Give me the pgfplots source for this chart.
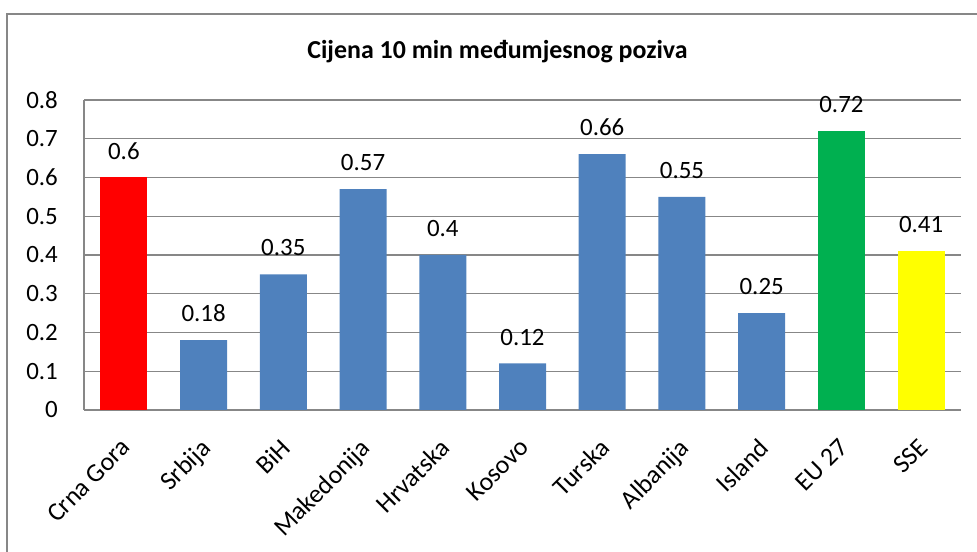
\documentclass[border=0pt]{standalone}
\usepackage{fontspec}
\setmainfont{Carlito}
\usepackage{pgfplots}
\pgfplotsset{compat=1.18}
\definecolor{barblue}{HTML}{4F81BD}
\definecolor{bargreen}{HTML}{00B050}
\definecolor{baryellow}{HTML}{FFFF00}
\definecolor{barred}{HTML}{FF0000}
\definecolor{gridgray}{HTML}{878787}
\begin{document}
\begin{tikzpicture}[x=1bp,y=1bp]
\useasboundingbox (0,0) rectangle (977,552);
\draw[color=gridgray, line width=1.2bp] (7,0) -- (7,538) -- (977,538);
\node[font=\bfseries\fontsize{26}{26}\selectfont] at (497.5,500) {Cijena 10 min međumjesnog poziva};
\begin{axis}[
  at={(84bp,142bp)}, anchor=south west,
  scale only axis, width=877bp, height=310bp,
  xmin=-0.5, xmax=10.5, ymin=0, ymax=0.8,
  enlargelimits=false,
  ytick={0,0.1,0.2,0.3,0.4,0.5,0.6,0.7,0.8},
  xtick={0,1,2,3,4,5,6,7,8,9,10},
  xticklabels={Crna Gora, Srbija, BiH, Makedonija, Hrvatska, Kosovo, Turska, Albanija, Island, EU 27, SSE},
  axis x line*=bottom, axis y line*=left,
  axis line style={draw=gridgray, line width=1.2bp},
  major tick length=0pt,
  ymajorgrids, grid style={draw=gridgray, line width=1.2bp},
  /pgf/number format/assume math mode=true,
  /pgf/number format/.cd, fixed, precision=1, /pgfplots/.cd,
  yticklabel style={font=\fontsize{25}{25}\selectfont, anchor=east, inner sep=0pt, xshift=-26bp},
  xticklabel style={font=\fontsize{26}{26}\selectfont, xshift=-4bp, yshift=-27bp, rotate=45, anchor=north east, inner sep=0pt},
  nodes near coords, point meta=explicit symbolic,
  every node near coord/.append style={font=\fontsize{25}{25}\selectfont, inner sep=0pt, anchor=south, yshift=18bp, color=black},
  clip=false,
]
\addplot[ybar, bar width=47bp, bar shift=0pt, fill=barred, draw=none] coordinates {(0,0.6)[0.6]};
\addplot[ybar, bar width=47bp, bar shift=0pt, fill=barblue, draw=none] coordinates {
(1,0.18)[0.18] (2,0.35)[0.35] (3,0.57)[0.57] (4,0.4)[0.4] (5,0.12)[0.12] (6,0.66)[0.66] (7,0.55)[0.55] (8,0.25)[0.25]};
\addplot[ybar, bar width=47bp, bar shift=0pt, fill=bargreen, draw=none] coordinates {(9,0.72)[0.72]};
\addplot[ybar, bar width=47bp, bar shift=0pt, fill=baryellow, draw=none] coordinates {(10,0.41)[0.41]};
\end{axis}
\end{tikzpicture}
\end{document}
